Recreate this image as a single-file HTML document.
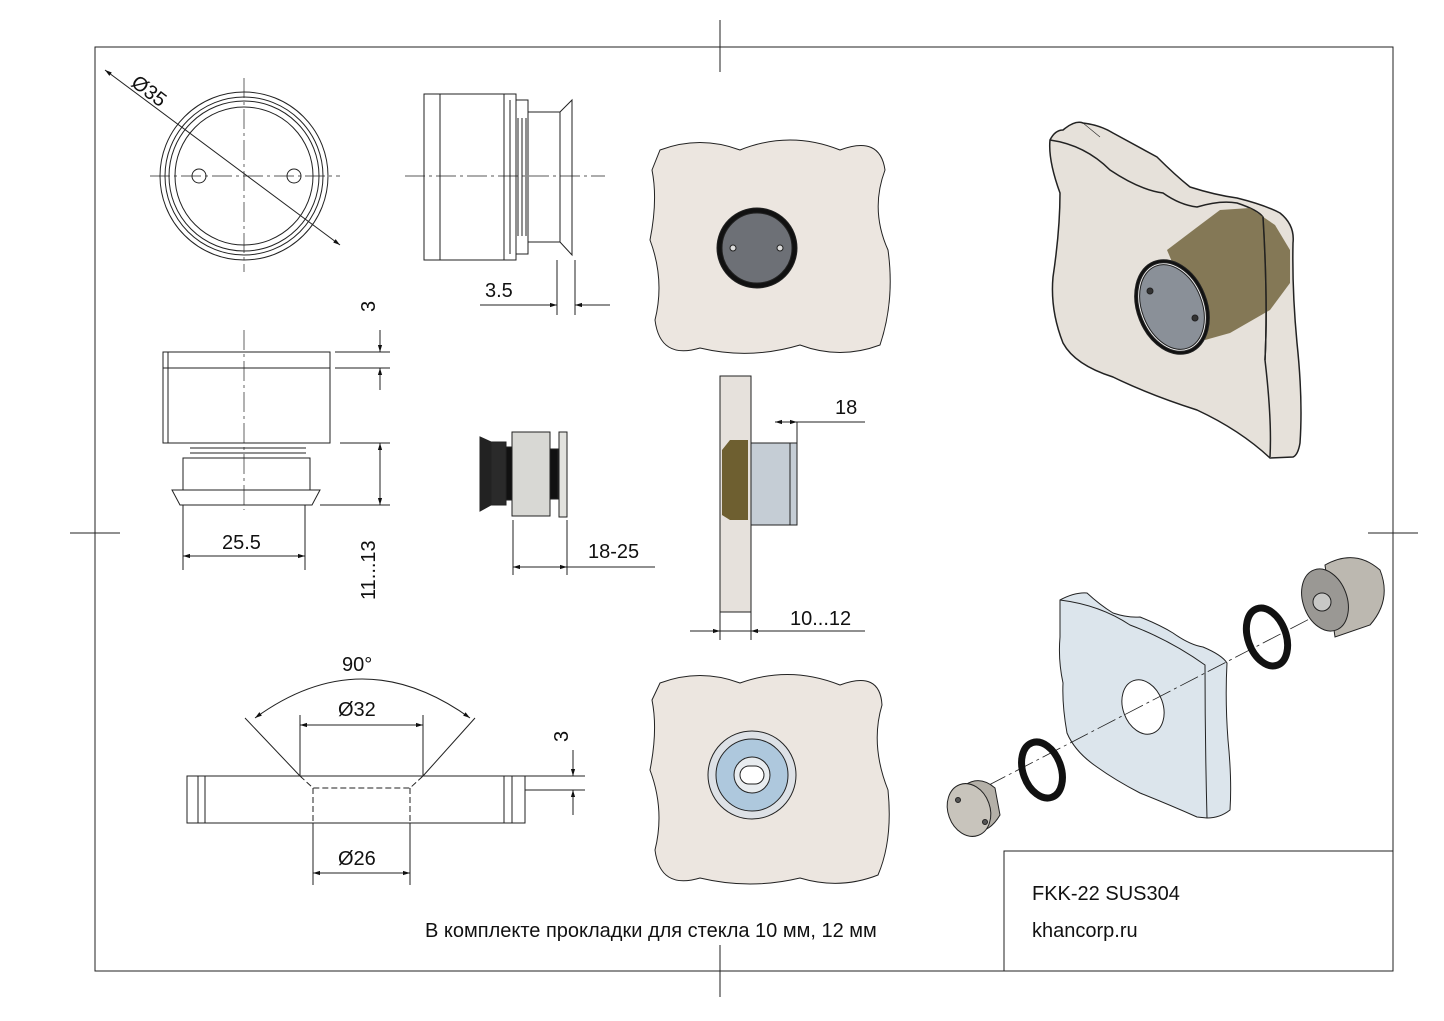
<!DOCTYPE html>
<html><head><meta charset="utf-8"><style>html,body{margin:0;padding:0;background:#fff}svg{display:block}text{font-family:"Liberation Sans",sans-serif;fill:#111}</style></head><body>
<svg width="1444" height="1021" viewBox="0 0 1444 1021" xmlns="http://www.w3.org/2000/svg">
<defs><marker id="a" viewBox="0 0 10 10" refX="10" refY="5" markerWidth="7" markerHeight="7" orient="auto-start-reverse"><path d="M0,2 L10,5 L0,8z" fill="#111"/></marker></defs>
<g fill="none" stroke="#222" stroke-width="1">
<rect x="95" y="47" width="1298" height="924"/>
<path d="M720 20V72M720 945V997M70 533H120M1368 533H1418"/>
<rect x="1004" y="851" width="389" height="120"/>
<circle cx="244" cy="176" r="84"/><circle cx="244" cy="176" r="79"/><circle cx="244" cy="176" r="75"/><circle cx="244" cy="176" r="69"/>
<circle cx="199" cy="176" r="7"/><circle cx="294" cy="176" r="7"/>
<path d="M150 176H340M244 78V272" stroke-dasharray="20 4 3 4" stroke-width=".7"/>
<path d="M105 70L340 245" marker-end="url(#a)" marker-start="url(#a)"/>
<rect x="424" y="94" width="92" height="166"/><path d="M440 94V260M504 94V260M510 100V254M516 100H528V254H516"/>
<path d="M518 118V236M522 118V236M526 118V236"/>
<path d="M528 112H560L572 100V255L560 242H528Z M560 112V242"/>
<path d="M405 176H605" stroke-dasharray="20 4 3 4" stroke-width=".7"/>
<path d="M557 260V315M575 260V315M480 305H557M575 305H610"/>
<path d="M535 305H557" marker-end="url(#a)"/><path d="M597 305H575" marker-end="url(#a)"/>
<rect x="163" y="352" width="167" height="91"/><path d="M163 368H330M168 352V443"/>
<path d="M170 443H320M190 448H306M190 453H306M183 458H310V490H183Z M172 490H320L312 505H180Z"/>
<path d="M244 330V510" stroke-dasharray="20 4 3 4" stroke-width=".7"/>
<path d="M335 352H390M335 368H390M340 443H390M320 505H390"/>
<path d="M380 330V352" marker-end="url(#a)"/><path d="M380 390V368" marker-end="url(#a)"/>
<path d="M380 443V505" marker-end="url(#a)" marker-start="url(#a)"/>
<path d="M183 505V570M305 505V570M183 556H305" />
<path d="M200 556H183" marker-end="url(#a)"/><path d="M290 556H305" marker-end="url(#a)"/>
<path d="M480 437L491 442V505L480 511Z" fill="#222"/>
<rect x="491" y="442" width="15" height="63" fill="#2a2a2a"/><rect x="506" y="447" width="6" height="53" fill="#111"/>
<rect x="512" y="432" width="38" height="84" fill="#d8d8d4"/>
<rect x="550" y="449" width="8" height="50" fill="#111"/>
<rect x="559" y="432" width="8" height="85" fill="#e2e2de"/>
<path d="M513 520V575M567 520V575M513 567H655"/><path d="M530 567H513" marker-end="url(#a)"/><path d="M550 567H567" marker-end="url(#a)"/>
<rect x="720" y="376" width="31" height="236" fill="#e6e1dc"/>
<path d="M722 450L730 440H748V520H730L722 515Z" fill="#6e5f30" stroke="none"/>
<rect x="751" y="443" width="46" height="82" fill="#c5cdd5"/><path d="M790 443V525"/>
<path d="M797 422V443M797 422H865"/><path d="M775 422H797" marker-end="url(#a)" marker-start="url(#a)" />
<path d="M720 612V640M751 612V640M690 631H865"/><path d="M700 631H720" marker-end="url(#a)"/><path d="M771 631H751" marker-end="url(#a)"/>
<rect x="187" y="776" width="338" height="47"/><path d="M198 776V823M205 776V823M504 776V823M512 776V823"/>
<path d="M300 776L313 788H410L423 776M313 788V823M410 788V823" stroke-dasharray="6 3"/>
<path d="M300 776L245 718M423 776L475 718M300 776V715M423 776V715M313 823V885M410 823V885"/>
<path d="M255 718Q362 640 470 718" marker-end="url(#a)" marker-start="url(#a)"/>
<path d="M300 725H423" marker-end="url(#a)" marker-start="url(#a)"/>
<path d="M313 873H410" marker-end="url(#a)" marker-start="url(#a)"/>
<path d="M525 776H585M525 790H585"/><path d="M573 750V776" marker-end="url(#a)"/><path d="M573 815V790" marker-end="url(#a)"/>
<path d="M660 150Q700 135 740 150Q790 130 840 150Q880 135 885 170Q870 210 888 250Q895 300 880 345Q840 360 800 345Q750 360 700 348Q660 360 655 320Q665 280 650 240Q658 200 652 170Z" fill="#ece6e0"/>
<circle cx="757" cy="248" r="40" fill="#111"/><circle cx="757" cy="248" r="35" fill="#6d7076"/>
<circle cx="733" cy="248" r="3" fill="#ddd"/><circle cx="780" cy="248" r="3" fill="#ddd"/>
<path d="M660 683Q700 668 740 683Q790 665 840 685Q880 670 882 705Q870 745 888 790Q893 840 878 875Q840 890 800 878Q750 890 700 878Q660 890 655 850Q665 810 650 770Q658 730 652 700Z" fill="#ece6e0"/>
<circle cx="752" cy="775" r="44" fill="#dde1e6"/><circle cx="752" cy="775" r="36" fill="#aec8dd"/><circle cx="752" cy="775" r="18" fill="#e8ecef"/><rect x="740" y="766" width="24" height="18" rx="9" fill="#fff"/>
<path d="M1050 140Q1055 130 1063 130Q1075 120 1083 123Q1100 125 1113 133Q1135 145 1157 157Q1175 175 1190 187Q1215 195 1237 198Q1265 205 1280 213Q1295 225 1293 243Q1292 290 1297 343Q1303 400 1300 443Q1298 455 1293 457L1270 458Q1240 430 1197 410Q1150 395 1113 377Q1075 365 1063 343Q1050 310 1053 277Q1060 230 1060 193Q1048 160 1050 140Z" fill="#e6e1da" stroke-width="1.5"/>
<path d="M1050 140Q1085 145 1110 170Q1140 190 1163 193Q1180 205 1197 207Q1220 200 1237 203Q1258 210 1263 217Q1268 300 1265 360Q1272 420 1270 457" stroke-width="1.5"/>
<path d="M1083 123L1100 137" stroke-width=".6"/>
<path d="M1167 250L1200 225L1220 210L1250 208L1275 225L1290 250L1290 283L1270 310L1230 333L1205 340Z" fill="#6b5e35" fill-opacity=".8" stroke="none"/>
<path d="M1263 217Q1268 300 1265 360" stroke-width="1.5"/>
<ellipse cx="1172" cy="307" rx="35" ry="49" transform="rotate(-22 1172 307)" fill="#111"/>
<ellipse cx="1172" cy="307" rx="32" ry="46" transform="rotate(-22 1172 307)" fill="#eee"/>
<ellipse cx="1172" cy="307" rx="30" ry="44" transform="rotate(-22 1172 307)" fill="#8a9098"/>
<circle cx="1150" cy="291" r="3" fill="#333"/><circle cx="1195" cy="318" r="3" fill="#333"/>
<path d="M1060 600Q1075 592 1087 593Q1100 605 1113 613Q1128 618 1140 617Q1160 625 1173 633Q1190 645 1203 647Q1222 655 1227 663Q1225 700 1228 740Q1232 780 1230 810Q1220 818 1207 818L1197 817Q1170 805 1140 793Q1115 780 1097 767Q1075 752 1067 733Q1062 705 1063 683Q1058 660 1060 637Z" fill="#dce5ec"/>
<path d="M1060 600Q1100 605 1130 625Q1170 640 1205 665Q1205 740 1207 818"/>
<ellipse cx="1143" cy="707" rx="20" ry="28" transform="rotate(-20 1143 707)" fill="#fff"/>
<path d="M960 800L1375 585" stroke-dasharray="20 4 3 4" stroke-width=".8"/>
<ellipse cx="1267" cy="637" rx="19" ry="30" transform="rotate(-20 1267 637)" stroke="#111" stroke-width="7"/>
<path d="M1325 565Q1355 548 1380 570Q1392 600 1370 625L1335 637Z" fill="#bcb8b0"/>
<ellipse cx="1325" cy="600" rx="22" ry="32" transform="rotate(-20 1325 600)" fill="#9a9894"/>
<circle cx="1322" cy="602" r="9" fill="#c8c8c6"/>
<ellipse cx="1042" cy="770" rx="19" ry="29" transform="rotate(-20 1042 770)" stroke="#111" stroke-width="7"/>
<path d="M965 785Q980 775 995 788L1000 815Q990 832 975 832Z" fill="#b4b0a8"/>
<ellipse cx="969" cy="810" rx="21" ry="27" transform="rotate(-20 969 810)" fill="#c8c4bc"/>
<circle cx="958" cy="800" r="2.5" fill="#555"/><circle cx="985" cy="822" r="2.5" fill="#555"/>
</g>
<g font-size="20">
<text x="130" y="85" transform="rotate(37 130 85)">Ø35</text>
<text x="485" y="297">3.5</text>
<text x="375" y="312" transform="rotate(-90 375 312)">3</text>
<text x="222" y="549">25.5</text>
<text x="375" y="600" transform="rotate(-90 375 600)">11...13</text>
<text x="588" y="558">18-25</text>
<text x="835" y="414">18</text>
<text x="790" y="625">10...12</text>
<text x="342" y="671">90°</text>
<text x="338" y="716">Ø32</text>
<text x="338" y="865">Ø26</text>
<text x="568" y="742" transform="rotate(-90 568 742)">3</text>
<text x="1032" y="900">FKK-22 SUS304</text>
<text x="1032" y="937">khancorp.ru</text>
<text x="425" y="937">В комплекте прокладки для стекла 10 мм, 12 мм</text>
</g>
</svg>
</body></html>
